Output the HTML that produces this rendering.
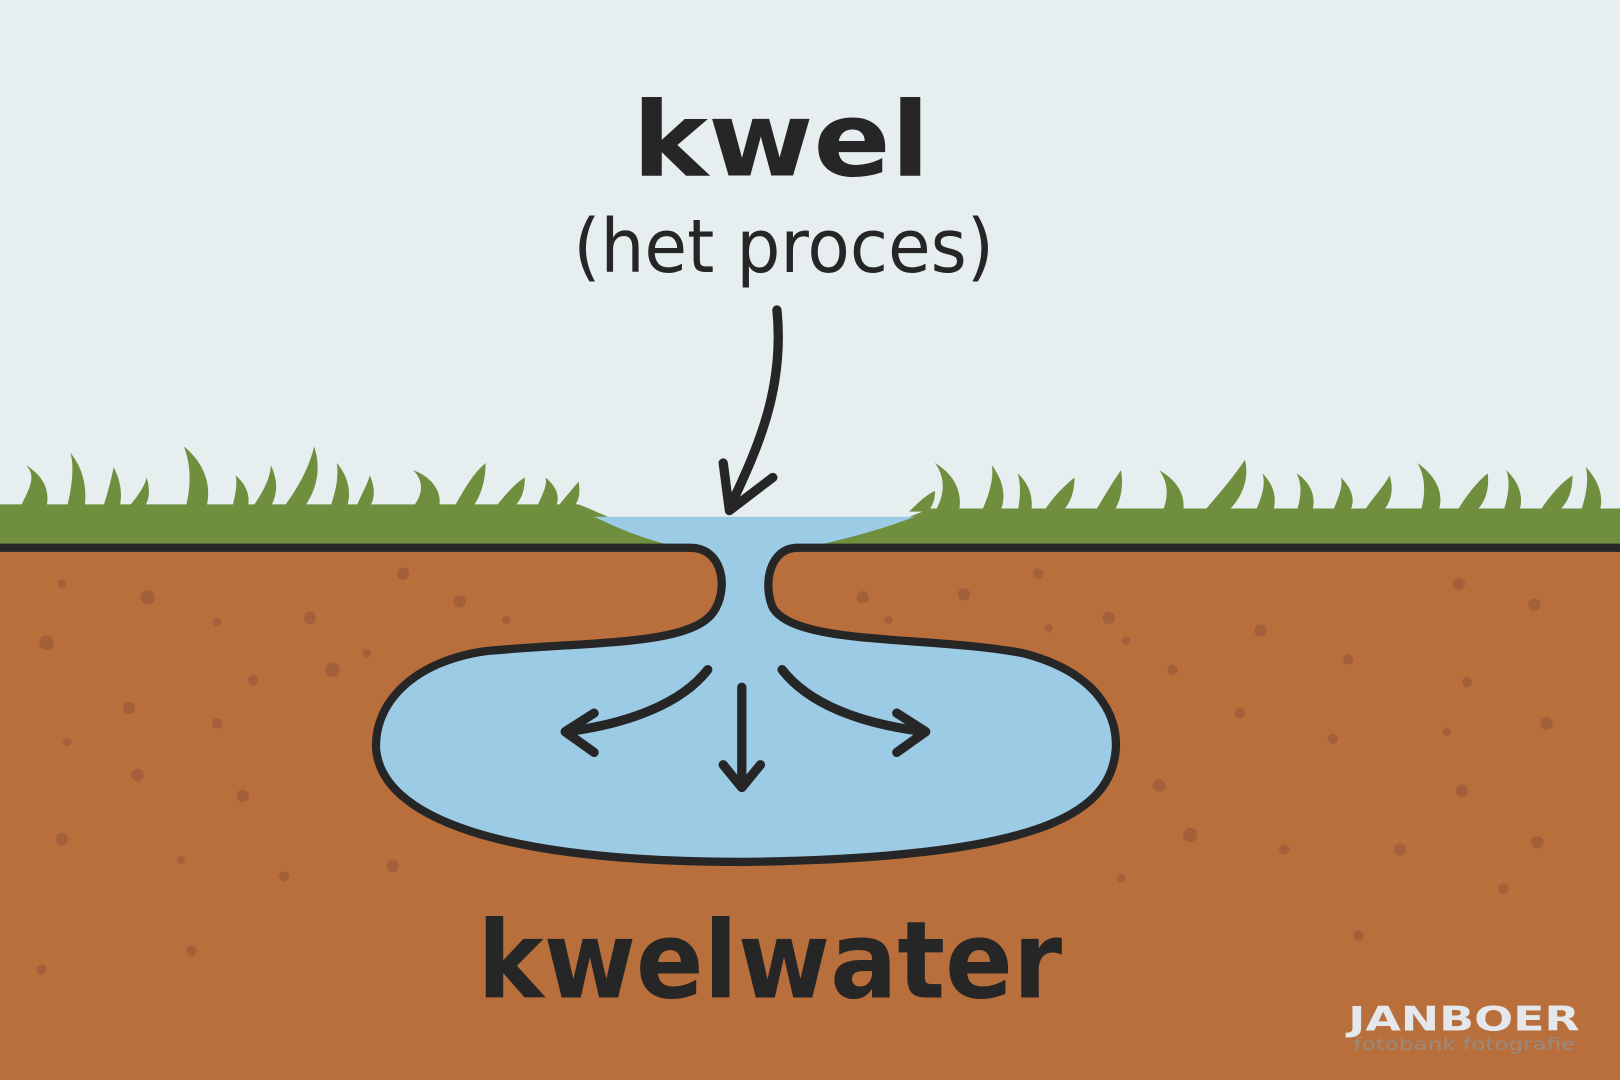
<!DOCTYPE html>
<html><head><meta charset="utf-8"><style>html,body{margin:0;padding:0;background:#e6eef0}svg{display:block}</style></head>
<body>
<svg width="1620" height="1080" viewBox="0 0 1568 1045" preserveAspectRatio="none" xmlns="http://www.w3.org/2000/svg">
<rect width="1568" height="1045" fill="#e6eef0"/>
<g fill="#6f8f3e">
<path d="M20,490 C30,470 35,460 25,450 C45,462 48,478 45,490Z"/>
<path d="M65,490 C70,470 72,450 68,438 C82,455 84,475 82,490Z"/>
<path d="M100,490 C105,475 108,462 110,452 C118,468 118,480 116,490Z"/>
<path d="M125,490 C135,478 140,470 142,462 C146,476 144,484 140,490Z"/>
<path d="M180,490 C185,470 185,450 178,432 C198,448 205,470 200,490Z"/>
<path d="M225,490 C228,478 230,468 228,460 C240,470 242,482 240,490Z"/>
<path d="M245,490 C255,475 262,462 262,450 C270,466 268,480 262,490Z"/>
<path d="M275,490 C290,470 300,450 304,432 C312,455 305,476 295,490Z"/>
<path d="M320,490 C325,475 328,462 326,448 C338,462 340,478 336,490Z"/>
<path d="M345,490 C350,478 355,470 358,460 C364,474 362,484 358,490Z"/>
<path d="M400,490 C410,478 410,465 400,455 C420,462 428,478 425,490Z"/>
<path d="M440,490 C450,472 458,458 470,448 C470,466 465,480 458,490Z"/>
<path d="M480,490 C490,478 498,468 508,462 C508,476 504,484 498,490Z"/>
<path d="M520,490 C525,478 530,470 528,462 C540,472 542,482 538,490Z"/>
<path d="M540,490 C548,480 555,472 560,466 C562,478 560,484 556,490Z"/>
<path d="M880,495 C890,485 898,478 905,475 C905,485 902,490 898,495Z"/>
<path d="M905,495 C915,478 915,462 905,448 C925,460 932,478 928,495Z"/>
<path d="M950,495 C958,478 962,462 960,450 C972,466 974,482 968,495Z"/>
<path d="M985,495 C988,480 988,468 985,458 C998,470 1000,484 998,495Z"/>
<path d="M1010,495 C1020,480 1030,470 1040,462 C1040,478 1035,488 1028,495Z"/>
<path d="M1060,495 C1070,478 1078,465 1085,455 C1088,472 1084,486 1078,495Z"/>
<path d="M1125,495 C1132,480 1130,465 1122,455 C1140,465 1148,480 1145,495Z"/>
<path d="M1165,495 C1180,478 1195,460 1205,445 C1210,466 1200,484 1188,495Z"/>
<path d="M1215,495 C1222,480 1225,468 1222,458 C1234,470 1236,484 1232,495Z"/>
<path d="M1255,495 C1260,480 1260,468 1255,458 C1270,468 1274,482 1270,495Z"/>
<path d="M1290,495 C1295,482 1300,472 1298,462 C1310,474 1312,486 1306,495Z"/>
<path d="M1320,495 C1330,480 1340,470 1345,460 C1350,476 1345,488 1338,495Z"/>
<path d="M1375,495 C1380,478 1380,462 1372,448 C1392,462 1398,480 1392,495Z"/>
<path d="M1410,495 C1420,478 1430,466 1440,458 C1442,476 1436,488 1428,495Z"/>
<path d="M1455,495 C1460,480 1462,466 1458,455 C1472,468 1475,484 1470,495Z"/>
<path d="M1490,495 C1500,480 1510,468 1522,460 C1522,478 1516,488 1508,495Z"/>
<path d="M1530,495 C1535,480 1538,466 1535,452 C1550,468 1552,484 1548,495Z"/>
</g>
<path d="M0,488 L560,488 C590,500 620,515 660,530 L0,530Z" fill="#6f8f3e"/>
<path d="M1568,492 L900,492 C870,505 830,518 780,530 L1568,530Z" fill="#6f8f3e"/>
<rect x="0" y="530" width="1568" height="515" fill="#b86f3c"/>
<g fill="#a4603a">
<circle cx="60" cy="565" r="4"/><circle cx="143" cy="578" r="7"/><circle cx="45" cy="622" r="7"/><circle cx="210" cy="602" r="4"/><circle cx="300" cy="598" r="6"/><circle cx="390" cy="555" r="6"/><circle cx="125" cy="685" r="6"/><circle cx="245" cy="658" r="5"/><circle cx="322" cy="648" r="7"/><circle cx="355" cy="632" r="4"/><circle cx="210" cy="700" r="5"/><circle cx="65" cy="718" r="4"/><circle cx="133" cy="750" r="6"/><circle cx="235" cy="770" r="6"/><circle cx="60" cy="812" r="6"/><circle cx="175" cy="832" r="4"/><circle cx="380" cy="838" r="6"/><circle cx="275" cy="848" r="5"/><circle cx="40" cy="938" r="5"/><circle cx="185" cy="920" r="5"/><circle cx="445" cy="582" r="6"/><circle cx="490" cy="600" r="4"/>
<circle cx="835" cy="578" r="6"/><circle cx="860" cy="600" r="4"/><circle cx="933" cy="575" r="6"/><circle cx="1005" cy="555" r="5"/><circle cx="1015" cy="608" r="4"/><circle cx="1073" cy="598" r="6"/><circle cx="1090" cy="620" r="4"/><circle cx="1135" cy="648" r="5"/><circle cx="1220" cy="610" r="6"/><circle cx="1305" cy="638" r="5"/><circle cx="1412" cy="565" r="6"/><circle cx="1485" cy="585" r="6"/><circle cx="1420" cy="660" r="5"/><circle cx="1200" cy="690" r="5"/><circle cx="1290" cy="715" r="5"/><circle cx="1400" cy="708" r="4"/><circle cx="1497" cy="700" r="6"/><circle cx="1122" cy="760" r="6"/><circle cx="1152" cy="808" r="7"/><circle cx="1243" cy="822" r="5"/><circle cx="1355" cy="822" r="6"/><circle cx="1415" cy="765" r="6"/><circle cx="1488" cy="815" r="6"/><circle cx="1455" cy="860" r="5"/><circle cx="1315" cy="905" r="5"/><circle cx="1085" cy="850" r="4"/>
</g>
<path d="M575,500 L885,500 C860,510 820,522 770,532 C745,540 742,570 745,585 C770,625 900,615 990,632 C1060,650 1082,690 1080,725 C1075,790 1000,830 720,834 C480,834 370,790 364,725 C362,680 400,640 470,630 C580,620 680,625 693,588 C700,565 700,540 670,532 C630,525 600,512 575,500Z" fill="#9ccbe6"/>
<path d="M0,530 L668,530 C698,530 705,565 693,588 C675,625 580,620 470,630 C400,640 362,680 364,725 C370,790 480,834 720,834 C1000,830 1075,790 1080,725 C1082,690 1060,650 990,632 C900,615 770,625 748,588 C738,565 745,530 772,530 L1568,530" fill="none" stroke="#262626" stroke-width="8" stroke-linejoin="round"/>
<g fill="none" stroke="#262626" stroke-width="9" stroke-linecap="round" stroke-linejoin="round">
<path d="M752,300 C760,380 730,440 706,492"/>
<path d="M700,448 L706,494 L748,462"/>
<path d="M685,648 C660,680 610,700 548,708"/>
<path d="M575,690 L547,708 L575,728"/>
<path d="M718,665 L718,760"/>
<path d="M700,740 L718,762 L736,740"/>
<path d="M757,648 C782,680 830,700 895,708"/>
<path d="M868,690 L896,708 L868,728"/>
</g>
<g font-family="'DejaVu Sans','Liberation Sans',sans-serif" fill="#262626">
<text x="612" y="170" font-size="100" font-weight="bold" textLength="288" lengthAdjust="spacingAndGlyphs">kwel</text>
<text x="555" y="263" font-size="72" textLength="407" lengthAdjust="spacingAndGlyphs">(het proces)</text>
<text x="462" y="965" font-size="104" font-weight="bold" textLength="566" lengthAdjust="spacingAndGlyphs">kwelwater</text>
<text x="1305" y="997" font-size="33" font-weight="bold" fill="#e4e8ec" textLength="224" lengthAdjust="spacingAndGlyphs">JANBOER</text>
<text x="1310" y="1016" font-size="16" fill="#9a8a80" textLength="215" lengthAdjust="spacingAndGlyphs">fotobank fotografie</text>
</g>
</svg>
</body></html>
